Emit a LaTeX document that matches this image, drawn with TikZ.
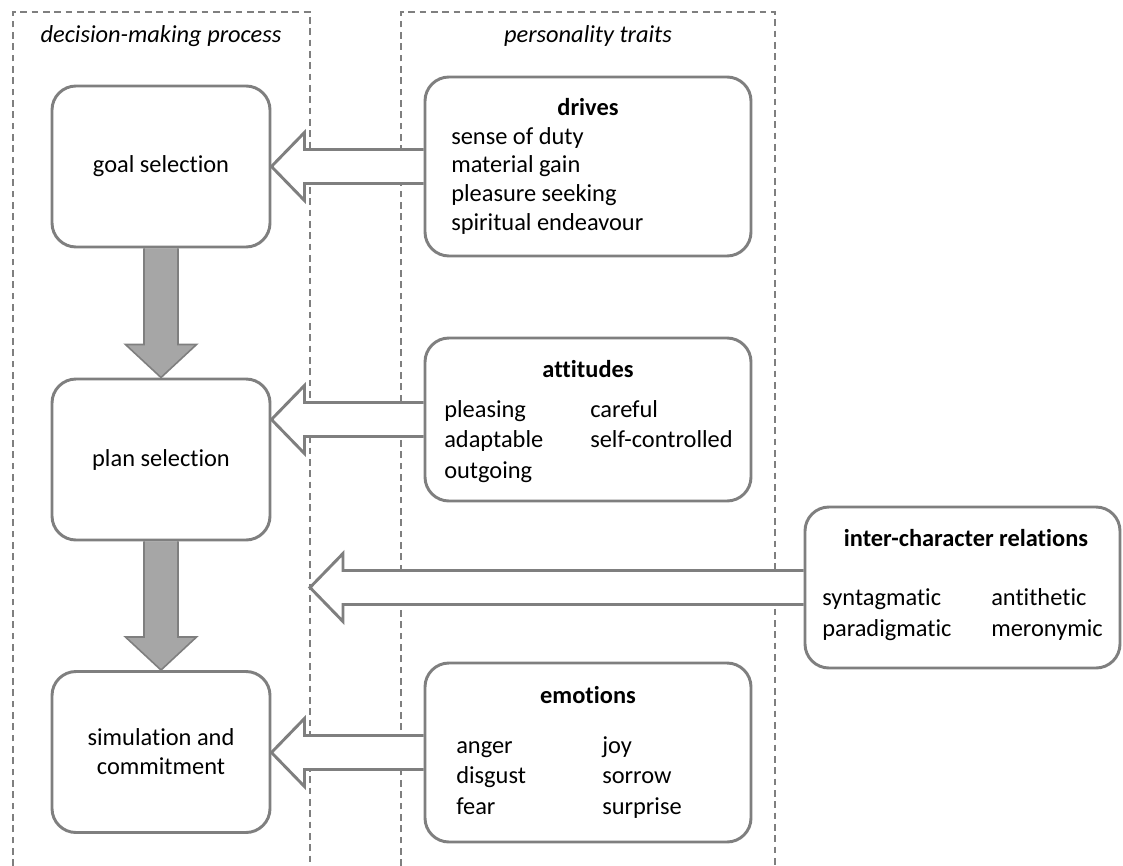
\documentclass[tikz,border=0pt]{standalone}
\usepackage{fontspec}
\setmainfont[Ligatures=NoCommon]{Carlito}
\usetikzlibrary{calc,backgrounds}

\definecolor{linegray}{HTML}{7F7F7F}
\definecolor{fillgray}{HTML}{A6A6A6}
\newcommand{\figfont}{\fontsize{18.3}{21.75}\selectfont}

\tikzset{
    box/.style={draw=linegray, line width=2.2pt, rounded corners=18pt, fill=white, inner sep=0pt},
    procbox/.style={box, minimum width=163.5pt, minimum height=120.75pt, align=center},
    traitbox/.style={box, minimum width=244.5pt},
    column/.style={draw=linegray, line width=1.3pt, dash pattern=on 5pt off 3.5pt},
    hollow/.style={draw=linegray, line width=2.2pt, fill=white, line join=miter},
    flow/.style={draw=linegray, line width=1.2pt, fill=fillgray},
    title/.style={anchor=base, inner sep=0pt, font=\figfont\bfseries},
    item/.style={anchor=base west, inner sep=0pt},
    heading/.style={anchor=base, inner sep=0pt, font=\figfont\itshape},
}

\begin{document}
\begin{tikzpicture}[x=0.75pt, y=-0.75pt, font=\figfont]
    \useasboundingbox (0,0) rectangle (1123,866);

    % ---------- column headings ----------
    \node[heading] (prochead) at (161,43) {decision-making process};
    \node[heading] (traithead) at (588,43) {personality traits};

    % ---------- decision-making process ----------
    \node[procbox] (goal) at (161,166.5) {goal selection};
    \node[procbox] (plan) at (161,459.5) {plan selection};
    \node[procbox] (sim)  at (161,752)   {simulation and\\commitment};

    % ---------- personality traits ----------
    \node[traitbox, minimum height=134.25pt] (drives)    at (588,166.5) {};
    \node[traitbox, minimum height=122.25pt] (attitudes) at (588,419.5) {};
    \node[traitbox, minimum height=134.25pt] (emotions)  at (588,752.5) {};
    \node[box, minimum width=236.25pt, minimum height=120.75pt] (inter) at (962.5,587.5) {};

    % free end of the relations arrow
    \coordinate (intip) at (310,587.5);

    % titles
    \node[title] (drvtitle) at (588,116) {drives};
    \node[title] (atttitle) at (588,377) {attitudes};
    \node[title] (emotitle) at (588,703) {emotions};
    \node[title] (inttitle) at (966,546) {inter-character relations};

    % drives
    \foreach \y/\lbl in {145/sense of duty, 173/material gain,
                         202/pleasure seeking, 231/spiritual endeavour}{
        \node[item] (drv\y) at (451,\y) {\lbl};
    }

    % attitudes
    \foreach \x/\y/\lbl in {444/417/pleasing, 444/447/adaptable, 444/478/outgoing,
                            590/417/careful, 590/447/self-controlled}{
        \node[item] (att\x\y) at (\x,\y) {\lbl};
    }

    % inter-character relations
    \foreach \x/\y/\lbl in {822/605/syntagmatic, 822/636/paradigmatic,
                            991/605/antithetic, 991/636/meronymic}{
        \node[item] (rel\x\y) at (\x,\y) {\lbl};
    }

    % emotions
    \foreach \x/\y/\lbl in {456/753/anger, 456/783/disgust, 456/814/fear,
                            602/753/joy, 602/783/sorrow, 602/814/surprise}{
        \node[item] (emo\x\y) at (\x,\y) {\lbl};
    }

    \begin{scope}[on background layer]
        % ---------- dashed columns ----------
        \draw[column] (13,866) -- (13,12) -- (310,12) -- (310,866);
        \draw[column] (401,866) -- (401,12) -- (775,12) -- (775,866);

        % ---------- trait arrows (hollow) ----------
        \foreach \src/\tip in {drives/goal.east, attitudes/plan.east,
                               emotions/sim.east, inter/intip}{
            \coordinate (t) at (\tip |- \src.west);
            \draw[hollow] ($(\src.west)+(0,-17)$) -- ($(t)+(33,-17)$)
                -- ($(t)+(33,-34)$) -- (t) -- ($(t)+(33,34)$)
                -- ($(t)+(33,17)$) -- ($(\src.west)+(0,17)$);
        }

        % ---------- process arrows (grey) ----------
        \foreach \a/\b in {goal/plan, plan/sim}{
            \draw[flow] ($(\a.south)+(-17,0)$) -- ($(\b.north)+(-17,-33)$)
                -- ($(\b.north)+(-35.5,-33)$) -- (\b.north)
                -- ($(\b.north)+(35.5,-33)$) -- ($(\b.north)+(17,-33)$)
                -- ($(\a.south)+(17,0)$);
        }
    \end{scope}

\end{tikzpicture}
\end{document}
